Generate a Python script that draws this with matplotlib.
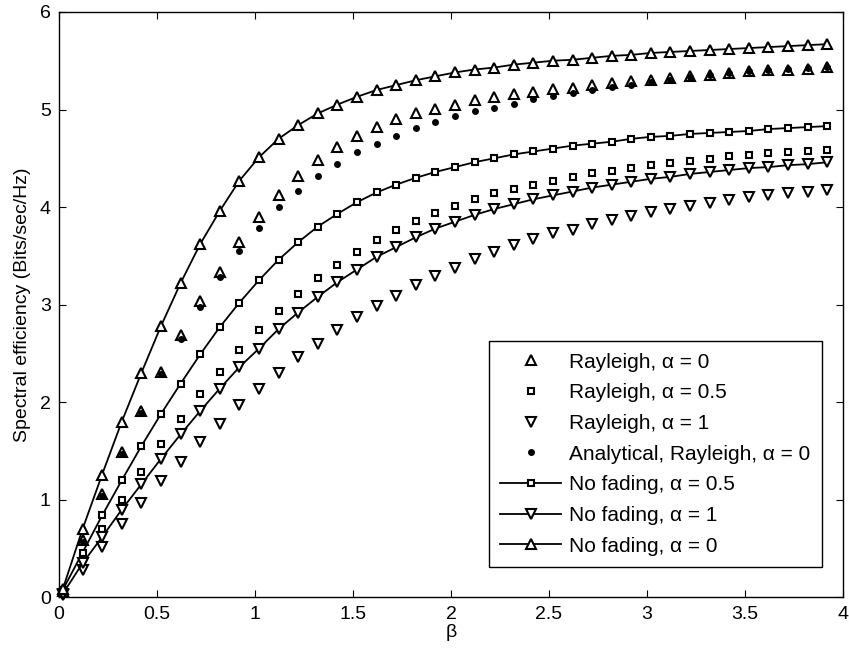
import matplotlib as mpl
mpl.use('Agg')
import matplotlib.pyplot as plt

plt.rcParams['font.family'] = ['Liberation Sans', 'DejaVu Sans']
plt.rcParams['font.size'] = 14

# beta values (x axis)
beta = [0.02, 0.12, 0.22, 0.32, 0.42, 0.52, 0.62, 0.72, 0.82, 0.92,
        1.02, 1.12, 1.22, 1.32, 1.42, 1.52, 1.62, 1.72, 1.82, 1.92,
        2.02, 2.12, 2.22, 2.32, 2.42, 2.52, 2.62, 2.72, 2.82, 2.92,
        3.02, 3.12, 3.22, 3.32, 3.42, 3.52, 3.62, 3.72, 3.82, 3.92]

# spectral efficiency readings
nofade_a0 = [0.09, 0.70, 1.26, 1.80, 2.30, 2.78, 3.22, 3.62, 3.96, 4.27,
             4.51, 4.70, 4.84, 4.96, 5.05, 5.13, 5.20, 5.25, 5.30, 5.34,
             5.38, 5.41, 5.43, 5.46, 5.48, 5.50, 5.51, 5.53, 5.55, 5.56,
             5.58, 5.59, 5.60, 5.61, 5.62, 5.63, 5.64, 5.65, 5.66, 5.67]
rayl_a0 = [0.07, 0.59, 1.06, 1.49, 1.91, 2.31, 2.69, 3.04, 3.34, 3.64,
           3.90, 4.12, 4.32, 4.48, 4.62, 4.73, 4.82, 4.90, 4.96, 5.01,
           5.05, 5.10, 5.13, 5.16, 5.18, 5.21, 5.22, 5.25, 5.27, 5.29,
           5.30, 5.32, 5.34, 5.35, 5.37, 5.39, 5.40, 5.41, 5.42, 5.44]
analytic_a0 = [0.07, 0.57, 1.04, 1.47, 1.89, 2.29, 2.65, 2.98, 3.28, 3.55,
               3.79, 4.00, 4.17, 4.32, 4.44, 4.56, 4.65, 4.73, 4.81, 4.87,
               4.93, 4.98, 5.02, 5.06, 5.11, 5.14, 5.17, 5.20, 5.23, 5.25,
               5.28, 5.30, 5.33, 5.35, 5.37, 5.39, 5.40, 5.42, 5.43, 5.44]
nofade_a05 = [0.08, 0.46, 0.84, 1.20, 1.55, 1.88, 2.19, 2.49, 2.77, 3.02,
              3.25, 3.46, 3.64, 3.80, 3.93, 4.05, 4.15, 4.23, 4.30, 4.36,
              4.41, 4.46, 4.50, 4.54, 4.57, 4.60, 4.63, 4.65, 4.67, 4.70,
              4.72, 4.73, 4.75, 4.76, 4.77, 4.78, 4.80, 4.81, 4.82, 4.83]
rayl_a05 = [0.06, 0.40, 0.70, 1.00, 1.29, 1.57, 1.83, 2.08, 2.31, 2.54,
            2.74, 2.94, 3.11, 3.27, 3.41, 3.54, 3.66, 3.77, 3.86, 3.94,
            4.01, 4.08, 4.14, 4.19, 4.23, 4.27, 4.31, 4.35, 4.37, 4.40,
            4.43, 4.45, 4.47, 4.49, 4.52, 4.53, 4.55, 4.56, 4.58, 4.59]
nofade_a1 = [0.04, 0.35, 0.62, 0.90, 1.16, 1.42, 1.67, 1.91, 2.14, 2.36,
             2.55, 2.75, 2.92, 3.08, 3.23, 3.36, 3.49, 3.59, 3.69, 3.78,
             3.85, 3.92, 3.98, 4.03, 4.08, 4.12, 4.16, 4.20, 4.23, 4.26,
             4.29, 4.31, 4.34, 4.36, 4.38, 4.40, 4.41, 4.43, 4.44, 4.46]
rayl_a1 = [0.03, 0.28, 0.52, 0.75, 0.97, 1.19, 1.39, 1.59, 1.78, 1.97,
           2.14, 2.30, 2.46, 2.60, 2.74, 2.87, 2.99, 3.09, 3.20, 3.29,
           3.38, 3.47, 3.54, 3.61, 3.67, 3.73, 3.77, 3.83, 3.87, 3.91,
           3.95, 3.98, 4.01, 4.04, 4.07, 4.10, 4.12, 4.14, 4.16, 4.18]

fig = plt.figure(figsize=(8.49, 6.49), dpi=100, facecolor='white')
ax = fig.add_axes([0.0695, 0.0794, 0.9234, 0.9022])

tri = dict(ms=7.5, mew=1.5, mec='k', mfc='white', clip_on=False)
sq = dict(ms=4.8, mew=1.5, mec='k', mfc='white', clip_on=False)

ax.plot(beta, rayl_a0, ls='none', marker='^', label='Rayleigh, \u03b1 = 0', **tri)
ax.plot(beta, rayl_a05, ls='none', marker='s', label='Rayleigh, \u03b1 = 0.5', **sq)
ax.plot(beta, rayl_a1, ls='none', marker='v', label='Rayleigh, \u03b1 = 1', **tri)
ax.plot(beta, analytic_a0, ls='none', marker='o', ms=5, mew=0, color='k',
        clip_on=False, label='Analytical, Rayleigh, \u03b1 = 0')
ax.plot(beta, nofade_a05, '-', color='k', lw=1.3, marker='s',
        label='No fading, \u03b1 = 0.5', **sq)
ax.plot(beta, nofade_a1, '-', color='k', lw=1.3, marker='v',
        label='No fading, \u03b1 = 1', **tri)
ax.plot(beta, nofade_a0, '-', color='k', lw=1.3, marker='^',
        label='No fading, \u03b1 = 0', **tri)

ax.set_xlim(0, 4)
ax.set_ylim(0, 6)
ax.set_xticks([0, 0.5, 1, 1.5, 2, 2.5, 3, 3.5, 4])
ax.set_xticklabels(['0', '0.5', '1', '1.5', '2', '2.5', '3', '3.5', '4'])
ax.set_yticks([0, 1, 2, 3, 4, 5, 6])
ax.tick_params(direction='in', top=True, right=True, length=5, width=0.8,
               pad=6, labelsize=14)
for s in ax.spines.values():
    s.set_linewidth(1.0)

ax.set_xlabel('\u03b2', labelpad=1)
ax.set_ylabel('Spectral efficiency (Bits/sec/Hz)', labelpad=6)

leg = ax.legend(loc='lower right', bbox_to_anchor=(0.973, 0.052),
                borderaxespad=0, fontsize=15, handlelength=2.9,
                handletextpad=0.4, labelspacing=0.56, borderpad=0.55,
                fancybox=False, framealpha=1, edgecolor='k')
leg.get_frame().set_linewidth(1.0)

fig.savefig('out.png', dpi=100)
